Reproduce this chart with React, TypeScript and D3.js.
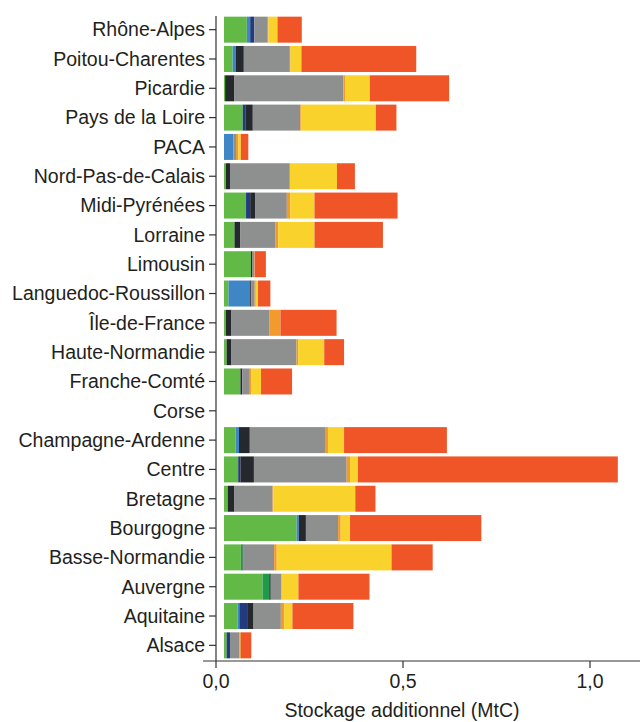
import React from 'react';
import * as d3 from 'd3';

const regions = [
  'Rhône-Alpes', 'Poitou-Charentes', 'Picardie', 'Pays de la Loire', 'PACA',
  'Nord-Pas-de-Calais', 'Midi-Pyrénées', 'Lorraine', 'Limousin', 'Languedoc-Roussillon',
  'Île-de-France', 'Haute-Normandie', 'Franche-Comté', 'Corse', 'Champagne-Ardenne',
  'Centre', 'Bretagne', 'Bourgogne', 'Basse-Normandie', 'Auvergne', 'Aquitaine', 'Alsace',
];

// one array per stacked component, same order as regions (MtC)
const green = [0.061, 0.023, 0.003, 0.050, 0, 0.005, 0.059, 0.028, 0.072, 0.012, 0.005, 0.007, 0.044, 0, 0.031, 0.038, 0.010, 0.194, 0.045, 0.103, 0.036, 0.007];
const darkGreen = [0, 0, 0, 0, 0, 0, 0, 0, 0, 0, 0, 0, 0, 0, 0, 0, 0, 0, 0.005, 0.018, 0, 0];
const lightBlue = [0.009, 0.009, 0, 0, 0.025, 0, 0, 0, 0, 0.058, 0, 0, 0, 0, 0.009, 0, 0, 0.006, 0, 0, 0.005, 0];
const navy = [0.011, 0, 0, 0.007, 0, 0, 0.011, 0, 0, 0, 0, 0, 0, 0, 0, 0.006, 0, 0, 0, 0, 0.023, 0.009];
const black = [0, 0.021, 0.025, 0.020, 0, 0.011, 0.013, 0.016, 0.003, 0.003, 0.015, 0.013, 0.005, 0, 0.029, 0.036, 0.018, 0.019, 0.002, 0.004, 0.015, 0];
const gray = [0.034, 0.123, 0.291, 0.127, 0.007, 0.160, 0.085, 0.094, 0.006, 0.009, 0.102, 0.174, 0.020, 0, 0.201, 0.248, 0.102, 0.086, 0.082, 0.029, 0.073, 0.025];
const orange = [0.004, 0.002, 0.005, 0.002, 0.006, 0, 0.009, 0.007, 0.001, 0.003, 0.029, 0.004, 0.004, 0, 0.008, 0.009, 0.002, 0.007, 0.007, 0, 0.009, 0.004];
const yellow = [0.024, 0.029, 0.066, 0.200, 0.007, 0.126, 0.065, 0.097, 0, 0.006, 0, 0.070, 0.026, 0, 0.043, 0.021, 0.219, 0.025, 0.307, 0.045, 0.022, 0];
const red = [0.065, 0.307, 0.212, 0.055, 0.020, 0.048, 0.222, 0.183, 0.030, 0.033, 0.150, 0.053, 0.083, 0, 0.275, 0.695, 0.054, 0.351, 0.110, 0.190, 0.163, 0.028];

const xTicks = [0, 0.5, 1.0];

const series = [
  { key: 'green', values: green, color: '#62b946' },
  { key: 'darkGreen', values: darkGreen, color: '#1f9a4a' },
  { key: 'lightBlue', values: lightBlue, color: '#3f86c6' },
  { key: 'navy', values: navy, color: '#223a7e' },
  { key: 'black', values: black, color: '#25282c' },
  { key: 'gray', values: gray, color: '#8e8f8f' },
  { key: 'orange', values: orange, color: '#f39a2c' },
  { key: 'yellow', values: yellow, color: '#f9d22b' },
  { key: 'red', values: red, color: '#f05528' },
];

const width = 640;
const height = 722;
const font = '"Liberation Sans", Arial, Helvetica, sans-serif';
const textColor = '#231f20';

export default function App() {
  const axisX = 216;
  const axisY = 661;
  const barShift = 8; // bars start slightly right of the spine

  const x = d3.scaleLinear().domain([0, 1]).range([axisX, 590]);
  const y = d3.scalePoint<string>().domain(regions).range([15, 660]).padding(0.5);
  const barH = 26;

  const table = regions.map((r, i) => {
    const row: Record<string, any> = { region: r };
    series.forEach(s => { row[s.key] = s.values[i]; });
    return row;
  });
  const stacked = d3.stack<any>().keys(series.map(s => s.key))(table);

  const fmt = (v: number) => d3.format('.1f')(v).replace('.', ',');

  return (
    <svg width={width} height={height} style={{ position: 'absolute', left: 0, top: 0, background: '#fff' }}
      fontFamily={font}>
      <g transform={`translate(${barShift},0)`}>
        {stacked.map((layer, li) => (
          <g key={layer.key} fill={series[li].color}>
            {layer.map((d, i) => {
              const w = x(d[1]) - x(d[0]);
              if (w <= 0) return null;
              return (
                <rect key={i} x={x(d[0])} y={(y(regions[i]) as number) - barH / 2}
                  width={w} height={barH} />
              );
            })}
          </g>
        ))}
      </g>

      {/* y axis */}
      <line x1={axisX} x2={axisX} y1={16} y2={axisY} stroke="#333" strokeWidth={1.2} />
      {regions.map(r => (
        <g key={r} transform={`translate(0,${y(r)})`}>
          <line x1={axisX - 7} x2={axisX} stroke="#333" strokeWidth={1.2} />
          <text x={axisX - 11} dy="0.35em" textAnchor="end" fontSize={19.5} fill={textColor}>{r}</text>
        </g>
      ))}

      {/* x axis */}
      <line x1={axisX - 13} x2={width} y1={axisY} y2={axisY} stroke="#333" strokeWidth={1.2} />
      {xTicks.map(t => (
        <g key={t} transform={`translate(${x(t)},${axisY})`}>
          <line y1={0} y2={7} stroke="#333" strokeWidth={1.2} />
          <text y={27} textAnchor="middle" fontSize={19.5} fill={textColor}>{fmt(t)}</text>
        </g>
      ))}
      <text x={402} y={717} textAnchor="middle" fontSize={19.5} fill={textColor}>Stockage additionnel (MtC)</text>
    </svg>
  );
}
